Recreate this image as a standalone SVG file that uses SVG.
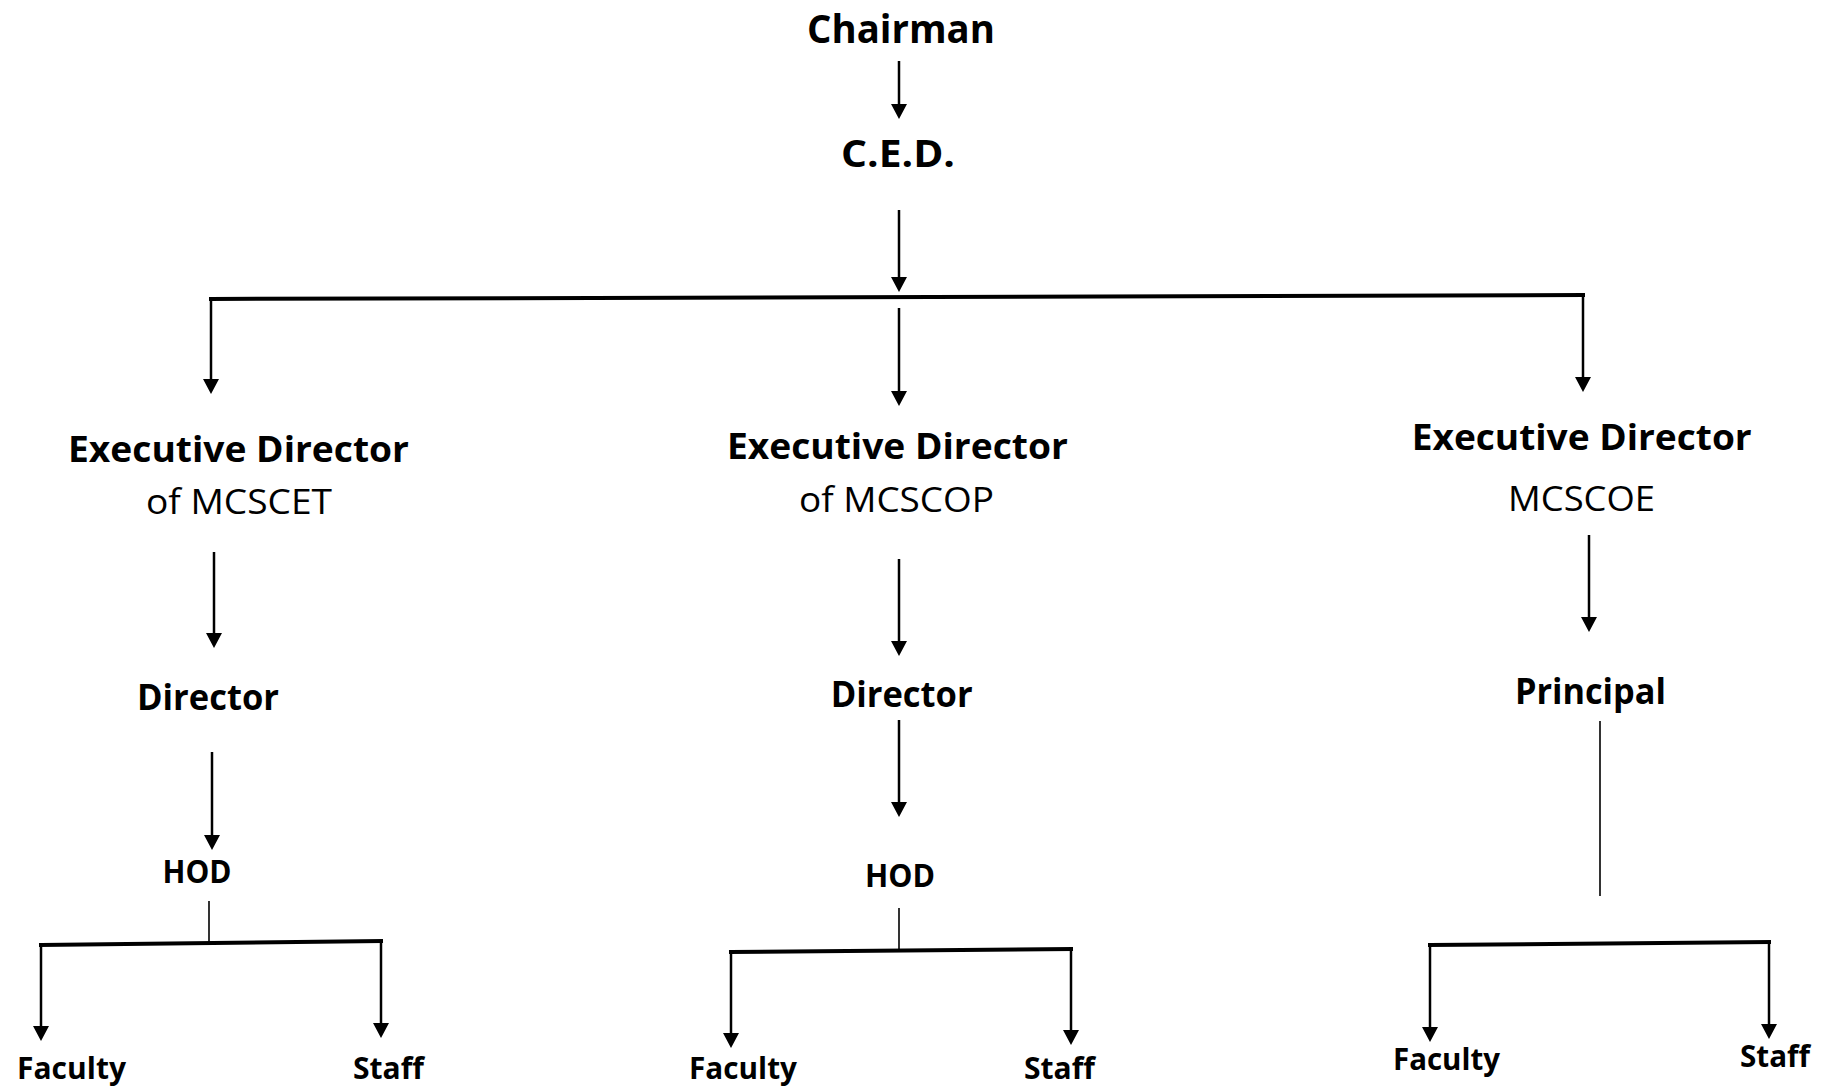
<svg xmlns="http://www.w3.org/2000/svg" width="1833" height="1089" viewBox="0 0 1833 1089">
<style>
  text { font-family: "Open Sans", Lato, "Liberation Sans", sans-serif; fill: #000; text-anchor: middle; font-variant-ligatures: none; }
  .b { font-weight: 700; }
  .r { font-weight: 400; }
  .arr { stroke: #000; stroke-width: 2.5; fill: none; marker-end: url(#ah); }
  .bus { stroke: #000; stroke-width: 4; fill: none; stroke-linecap: square; }
  .thin { stroke: #000; stroke-width: 1.6; fill: none; }
</style>
<defs>
  <marker id="ah" viewBox="0 0 15 16" refX="2" refY="8" markerWidth="15" markerHeight="16" markerUnits="userSpaceOnUse" orient="auto">
    <path d="M0,0 L15,8 L0,16 Z" fill="#000"/>
  </marker>
</defs>
<rect width="1833" height="1089" fill="#fff"/>

<g id="connectors">
  <line class="arr" x1="899" y1="61" x2="899" y2="106"/>
  <line class="arr" x1="899" y1="210" x2="899" y2="279"/>
  <line class="bus" x1="211" y1="299" x2="1583" y2="295"/>
  <line class="arr" x1="211" y1="299" x2="211" y2="381"/>
  <line class="arr" x1="899" y1="308" x2="899" y2="393"/>
  <line class="arr" x1="1583" y1="295" x2="1583" y2="379"/>

  <line class="arr" x1="214" y1="552" x2="214" y2="635"/>
  <line class="arr" x1="212" y1="752" x2="212" y2="837"/>
  <line class="thin" x1="209" y1="901" x2="209" y2="943"/>
  <line class="bus" x1="41" y1="945" x2="381" y2="941"/>
  <line class="arr" x1="41" y1="945" x2="41" y2="1028"/>
  <line class="arr" x1="381" y1="941" x2="381" y2="1025"/>

  <line class="arr" x1="899" y1="559" x2="899" y2="643"/>
  <line class="arr" x1="899" y1="720" x2="899" y2="804"/>
  <line class="thin" x1="899" y1="908" x2="899" y2="950"/>
  <line class="bus" x1="731" y1="952" x2="1071" y2="949"/>
  <line class="arr" x1="731" y1="952" x2="731" y2="1035"/>
  <line class="arr" x1="1071" y1="949" x2="1071" y2="1032"/>

  <line class="arr" x1="1589" y1="535" x2="1589" y2="619"/>
  <line class="thin" x1="1600" y1="721" x2="1600" y2="896"/>
  <line class="bus" x1="1430" y1="945" x2="1769" y2="942"/>
  <line class="arr" x1="1430" y1="945" x2="1430" y2="1029"/>
  <line class="arr" x1="1769" y1="942" x2="1769" y2="1026"/>
</g>

<g id="chairman"><text class="b" x="901" y="43" font-size="38.5" textLength="188" lengthAdjust="spacingAndGlyphs">Chairman</text></g>
<g id="ced"><text class="b" x="898" y="167" font-size="37.5" textLength="114" lengthAdjust="spacingAndGlyphs">C.E.D.</text></g>

<g id="ed-mcscet">
  <text class="b" x="238.5" y="462" font-size="35" textLength="341" lengthAdjust="spacingAndGlyphs">Executive Director</text>
  <text class="r" x="239" y="514" font-size="35" textLength="186" lengthAdjust="spacingAndGlyphs">of MCSCET</text>
</g>
<g id="ed-mcscop">
  <text class="b" x="897.4" y="459" font-size="35" textLength="341" lengthAdjust="spacingAndGlyphs">Executive Director</text>
  <text class="r" x="896.5" y="512" font-size="35" textLength="195" lengthAdjust="spacingAndGlyphs">of MCSCOP</text>
</g>
<g id="ed-mcscoe">
  <text class="b" x="1581.7" y="450" font-size="35" textLength="340" lengthAdjust="spacingAndGlyphs">Executive Director</text>
  <text class="r" x="1581.5" y="511" font-size="35" textLength="147" lengthAdjust="spacingAndGlyphs">MCSCOE</text>
</g>

<g id="director-1"><text class="b" x="208" y="710" font-size="36" textLength="142" lengthAdjust="spacingAndGlyphs">Director</text></g>
<g id="director-2"><text class="b" x="901.7" y="707" font-size="35.5" textLength="142" lengthAdjust="spacingAndGlyphs">Director</text></g>
<g id="principal"><text class="b" x="1590.4" y="704" font-size="35.5" textLength="151" lengthAdjust="spacingAndGlyphs">Principal</text></g>

<g id="hod-1"><text class="b" x="197" y="883" font-size="31.5" textLength="69" lengthAdjust="spacingAndGlyphs">HOD</text></g>
<g id="hod-2"><text class="b" x="900" y="887" font-size="31.5" textLength="70" lengthAdjust="spacingAndGlyphs">HOD</text></g>

<g id="faculty-1"><text class="b" x="71.5" y="1079" font-size="31" textLength="109" lengthAdjust="spacingAndGlyphs">Faculty</text></g>
<g id="staff-1"><text class="b" x="388.5" y="1079" font-size="31" textLength="71" lengthAdjust="spacingAndGlyphs">Staff</text></g>
<g id="faculty-2"><text class="b" x="743" y="1079" font-size="31" textLength="108" lengthAdjust="spacingAndGlyphs">Faculty</text></g>
<g id="staff-2"><text class="b" x="1059.5" y="1079" font-size="31" textLength="71" lengthAdjust="spacingAndGlyphs">Staff</text></g>
<g id="faculty-3"><text class="b" x="1446.5" y="1070" font-size="31" textLength="107" lengthAdjust="spacingAndGlyphs">Faculty</text></g>
<g id="staff-3"><text class="b" x="1775" y="1067" font-size="31" textLength="70" lengthAdjust="spacingAndGlyphs">Staff</text></g>
</svg>
